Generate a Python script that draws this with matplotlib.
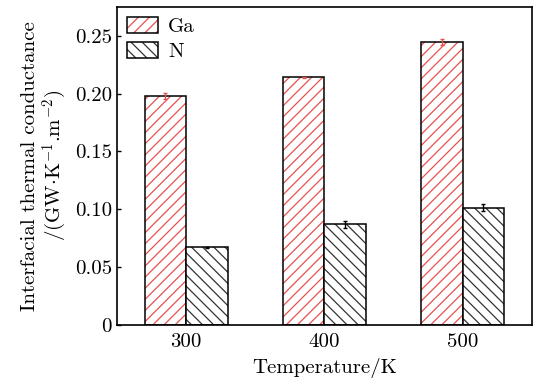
import matplotlib
matplotlib.use("Agg")
import matplotlib.pyplot as plt
import numpy as np
from matplotlib.patches import Rectangle

plt.rcParams['font.family'] = 'serif'
plt.rcParams['font.serif'] = ['cmr10']
plt.rcParams['mathtext.fontset'] = 'cm'
plt.rcParams['axes.formatter.use_mathtext'] = True
plt.rcParams['hatch.linewidth'] = 0.9

# Temperatures and interfacial thermal conductance (GW/(K m^2))
temps = [300, 400, 500]
ga_vals = [0.198, 0.214, 0.245]
ga_err = [0.0026, 0.0005, 0.0026]
n_vals = [0.067, 0.087, 0.1015]
n_err = [0.0004, 0.0033, 0.0033]

red = '#e8504f'
w = 30
fs = 15

fig, ax = plt.subplots(figsize=(5.34, 3.81), dpi=100)
fig.subplots_adjust(left=0.219, right=0.996, top=0.982, bottom=0.147)

x = np.array(temps)
# hatch colour follows edgecolor, so draw hatch and outline separately
ax.bar(x - w / 2, ga_vals, w, color='white', edgecolor=red, hatch='///', linewidth=0)
ax.bar(x - w / 2, ga_vals, w, fill=False, edgecolor='black', linewidth=1.1)
ax.bar(x + w / 2, n_vals, w, color='white', edgecolor='#333333', hatch='\\\\\\', linewidth=0)
ax.bar(x + w / 2, n_vals, w, fill=False, edgecolor='black', linewidth=1.1)

ax.errorbar(x - w / 2, ga_vals, yerr=ga_err, fmt='none', ecolor=red, capsize=1.5, elinewidth=1)
ax.errorbar(x + w / 2, n_vals, yerr=n_err, fmt='none', ecolor='black', capsize=1.5, elinewidth=1)

# legend handles
h_ga = Rectangle((0, 0), 1, 1, facecolor='white', edgecolor=red, hatch='///', linewidth=0)
h_ga2 = Rectangle((0, 0), 1, 1, fill=False, edgecolor='black', linewidth=1.1)
h_n = Rectangle((0, 0), 1, 1, facecolor='white', edgecolor='#333333', hatch='\\\\\\', linewidth=0)
h_n2 = Rectangle((0, 0), 1, 1, fill=False, edgecolor='black', linewidth=1.1)
ax.legend([(h_ga, h_ga2), (h_n, h_n2)], ['Ga', 'N'], loc='upper left', frameon=False,
          fontsize=fs, handlelength=1.45, handleheight=0.8, borderaxespad=0.3,
          borderpad=0.2, labelspacing=0.25, handletextpad=0.5)

ax.set_xlim(250, 550)
ax.set_ylim(0, 0.275)
ax.set_xticks(temps)
ax.set_xticklabels([str(t) for t in temps])
yt = [0, 0.05, 0.10, 0.15, 0.20, 0.25]
ax.set_yticks(yt)
ax.set_yticklabels(['0'] + ['%.2f' % v for v in yt[1:]])
ax.tick_params(direction='in', labelsize=fs, length=3, width=1)
ax.tick_params(axis='x', length=0, pad=6)
for s in ax.spines.values():
    s.set_linewidth(1.2)

ax.set_xlabel('Temperature/K', fontsize=fs, labelpad=5)
ax.set_ylabel('Interfacial thermal conductance\n/(GW$\\cdot$K$^{-1}$.m$^{-2}$)', fontsize=fs,
              linespacing=1.1)

fig.savefig('out.png', dpi=100)
